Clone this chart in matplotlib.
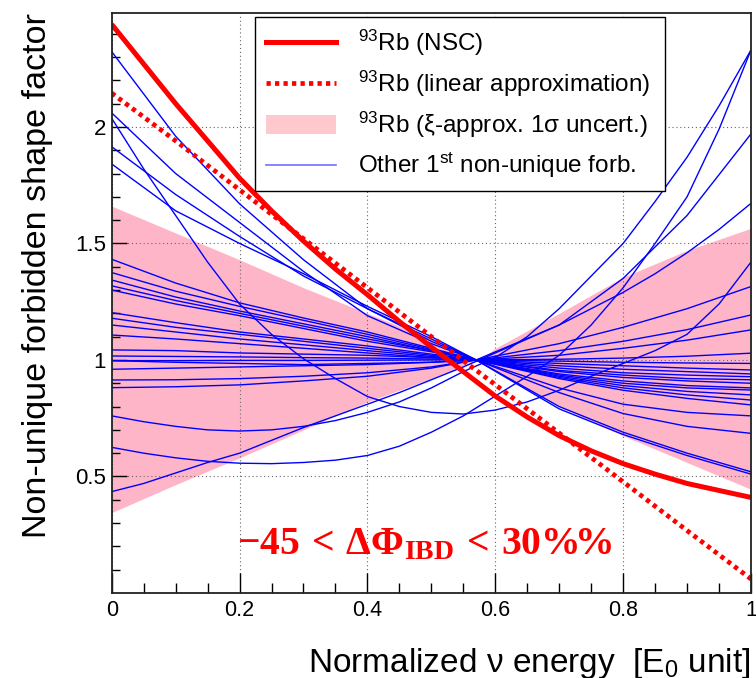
import numpy as np
import matplotlib
matplotlib.use("Agg")
import matplotlib.pyplot as plt
from matplotlib.lines import Line2D
from matplotlib.patches import Patch

plt.rcParams['font.family'] = ['Liberation Sans', 'DejaVu Sans']
plt.rcParams['mathtext.fontset'] = 'custom'
plt.rcParams['mathtext.rm'] = 'Liberation Sans'
plt.rcParams['mathtext.it'] = 'Liberation Sans:italic'
plt.rcParams['mathtext.bf'] = 'Liberation Serif:bold'

# ---------------- data ----------------
x_fine = [0.0, 0.05, 0.1, 0.15, 0.2, 0.25, 0.3, 0.35, 0.4, 0.45, 0.5,
          0.55, 0.6, 0.65, 0.7, 0.75, 0.8, 0.85, 0.9, 0.95, 1.0]
rb93_nsc = [2.44, 2.27, 2.10, 1.94, 1.78, 1.64, 1.51, 1.39, 1.28, 1.165, 1.055,
            0.95, 0.845, 0.755, 0.675, 0.61, 0.555, 0.51, 0.47, 0.44, 0.41]

x_grid = [0.0, 0.1, 0.2, 0.3, 0.4, 0.5, 0.6, 0.7, 0.8, 0.9, 1.0]
rb93_linear = [2.145, 1.94, 1.73, 1.52, 1.31, 1.10, 0.894, 0.686, 0.477, 0.268, 0.06]

x_band = [0.0, 0.1, 0.2, 0.3, 0.4, 0.5, 0.575, 0.6, 0.7, 0.8, 0.9, 1.0]
band_upper = [1.66, 1.545, 1.43, 1.31, 1.20, 1.09, 1.0, 1.05, 1.20, 1.355, 1.47, 1.565]
band_lower = [0.345, 0.465, 0.58, 0.70, 0.82, 0.92, 1.0, 0.95, 0.80, 0.675, 0.56, 0.445]

# other first non-unique forbidden transitions
x_blue = [0.0, 0.1, 0.2, 0.3, 0.4, 0.5, 0.57, 0.7, 0.8, 0.9, 1.0]
blue_d1 = [2.323, 1.96, 1.67, 1.43, 1.22, 1.08, 1.0, 0.80, 0.69, 0.60, 0.52]
blue_d2 = [2.06, 1.80, 1.59, 1.38, 1.19, 1.07, 1.0, 0.79, 0.68, 0.59, 0.51]
blue_d3 = [1.915, 1.71, 1.53, 1.36, 1.22, 1.09, 1.0, 0.86, 0.77, 0.715, 0.685]
blue_d4 = [1.841, 1.64, 1.50, 1.37, 1.23, 1.10, 1.0, 0.88, 0.81, 0.775, 0.76]
blue_g1 = [1.432, 1.33, 1.245, 1.18, 1.12, 1.05, 1.0, 0.92, 0.87, 0.835, 0.807]
blue_g2 = [1.375, 1.295, 1.23, 1.17, 1.11, 1.045, 1.0, 0.925, 0.88, 0.85, 0.828]
blue_g3 = [1.343, 1.27, 1.21, 1.155, 1.10, 1.04, 1.0, 0.93, 0.89, 0.865, 0.85]
blue_g4 = [1.318, 1.255, 1.20, 1.145, 1.09, 1.04, 1.0, 0.935, 0.90, 0.88, 0.871]
blue_g5 = [1.30, 1.24, 1.19, 1.135, 1.08, 1.035, 1.0, 0.94, 0.91, 0.89, 0.88]
blue_g6 = [1.203, 1.16, 1.12, 1.09, 1.06, 1.025, 1.0, 0.95, 0.925, 0.91, 0.90]
blue_g7 = [1.179, 1.14, 1.11, 1.08, 1.05, 1.02, 1.0, 0.955, 0.935, 0.92, 0.915]
blue_g8 = [1.15, 1.12, 1.09, 1.065, 1.04, 1.015, 1.0, 0.965, 0.945, 0.935, 0.928]
blue_g9 = [1.107, 1.09, 1.07, 1.05, 1.03, 1.01, 1.0, 0.975, 0.96, 0.95, 0.94]
blue_f1 = [1.043, 1.04, 1.03, 1.025, 1.02, 1.01, 1.0, 0.985, 0.975, 0.965, 0.957]
blue_f2 = [1.017, 1.015, 1.013, 1.01, 1.008, 1.004, 1.0, 0.995, 0.99, 0.987, 0.985]
blue_f3 = [0.997, 0.99, 0.985, 0.98, 0.985, 0.99, 1.0, 1.04, 1.08, 1.13, 1.193]
blue_r1 = [0.914, 0.915, 0.92, 0.93, 0.945, 0.97, 1.0, 1.07, 1.14, 1.22, 1.315]
blue_r2 = [0.881, 0.885, 0.893, 0.91, 0.93, 0.965, 1.0, 1.15, 1.35, 1.62, 1.97]
blue_r3 = [0.96, 0.965, 0.97, 0.975, 0.98, 0.99, 1.0, 1.02, 1.05, 1.085, 1.129]
blue_r4 = [0.997, 0.997, 0.998, 0.998, 0.999, 1.0, 1.0, 1.003, 1.008, 1.016, 1.029]

# strongly curved ones, read on the finer grid
blue_u1 = [2.037, 1.82, 1.62, 1.42, 1.24, 1.11, 1.005, 0.92, 0.843, 0.80, 0.775,
           0.768, 0.785, 0.82, 0.87, 0.93, 0.985, 1.04, 1.11, 1.24, 1.42]
blue_u2 = [0.76, 0.735, 0.715, 0.70, 0.695, 0.70, 0.715, 0.74, 0.775, 0.82, 0.88,
           0.95, 1.01, 1.10, 1.22, 1.36, 1.50, 1.68, 1.87, 2.09, 2.33]
blue_u3 = [0.625, 0.60, 0.58, 0.565, 0.557, 0.555, 0.56, 0.57, 0.59, 0.63, 0.69,
           0.76, 0.845, 0.93, 1.02, 1.15, 1.31, 1.50, 1.70, 1.99, 2.33]
blue_u4 = [0.435, 0.47, 0.515, 0.56, 0.60, 0.655, 0.71, 0.76, 0.81, 0.86, 0.915,
           0.97, 1.03, 1.09, 1.15, 1.22, 1.29, 1.37, 1.46, 1.56, 1.672]

blue_coarse = [blue_d1, blue_d2, blue_d3, blue_d4, blue_g1, blue_g2, blue_g3,
               blue_g4, blue_g5, blue_g6, blue_g7, blue_g8, blue_g9, blue_f1,
               blue_f2, blue_f3, blue_r1, blue_r2, blue_r3, blue_r4]
blue_fine = [blue_u1, blue_u2, blue_u3, blue_u4]

legend_labels = [r"$^{93}$Rb (NSC)",
                 r"$^{93}$Rb (linear approximation)",
                 r"$^{93}$Rb (ξ-approx. 1σ uncert.)",
                 r"Other 1$^{\mathrm{st}}$ non-unique forb."]

x_ticks = [0, 0.2, 0.4, 0.6, 0.8, 1.0]
x_tick_labels = ["0", "0.2", "0.4", "0.6", "0.8", "1"]
y_ticks = [0.5, 1.0, 1.5, 2.0]
y_tick_labels = ["0.5", "1", "1.5", "2"]

# ---------------- figure ----------------
W, H = 756, 678
fig = plt.figure(figsize=(W / 100, H / 100), dpi=100)
ax_left, ax_right, ax_top, ax_bottom = 111.7, 751.0, 12.7, 593.0
ax = fig.add_axes([ax_left / W, 1 - ax_bottom / H,
                   (ax_right - ax_left) / W, (ax_bottom - ax_top) / H])
ax.set_xlim(0, 1)
ax.set_ylim(0, 2.49)

band_color = '#ffb5c8'
ax.fill_between(x_band, band_lower, band_upper, color=band_color, lw=0, zorder=1)

for yc in blue_coarse:
    ax.plot(x_blue, yc, color='#0000ff', lw=1.0, zorder=3)
for yc in blue_fine:
    ax.plot(x_fine, yc, color='#0000ff', lw=1.0, zorder=3)

ax.plot(x_grid, rb93_linear, color='red', lw=3.4, linestyle=(0, (0.9, 0.9)),
        zorder=5)
ax.plot(x_fine, rb93_nsc, color='red', lw=3.6, zorder=6, solid_capstyle='butt')

# ticks & grid
ax.set_xticks(x_ticks)
ax.set_xticklabels(x_tick_labels)
ax.set_yticks(y_ticks)
ax.set_yticklabels(y_tick_labels)
ax.set_xticks(np.arange(0, 1.0001, 0.05), minor=True)
ax.set_yticks(np.arange(0.1, 2.49, 0.1), minor=True)
ax.grid(True, which='major', color='#666666', linestyle=(0, (1, 2.5)), lw=0.8,
        zorder=2)
ax.set_axisbelow(False)

ax.tick_params(axis='x', which='major', direction='in', length=14.5, width=1.0,
               labelsize=15.5, pad=5, top=False)
ax.tick_params(axis='x', which='minor', direction='in', length=7, width=1.0,
               top=False)
ax.tick_params(axis='y', which='major', direction='in', length=11, width=1.0,
               labelsize=16, pad=4, right=False)
ax.tick_params(axis='y', which='minor', direction='in', length=5.5, width=1.0,
               right=False)
for sp in ax.spines.values():
    sp.set_linewidth(1.3)
    sp.set_color('#222222')
    sp.set_zorder(10)

fig.text(38 / W, 1 - 13 / H, "Non-unique forbidden shape factor", rotation=90,
         ha='center', va='top', fontsize=24.6)
fig.text(750 / W, 1 - 672 / H, r"Normalized ν energy  [E$_{0}$ unit]",
         ha='right', va='baseline', fontsize=24)

ax.text(0.49, 0.168,
        r"$\mathbf{-45\,<\,\Delta\Phi_{IBD}\,<\,30\%\!\%}$",
        color='red', fontsize=28.5, ha='center', va='baseline', zorder=8)

handles = [Line2D([], [], color='red', lw=3.6),
           Line2D([], [], color='red', lw=3.4, linestyle=(0, (0.9, 0.9))),
           Patch(facecolor='#ffc8cc', edgecolor='none'),
           Line2D([], [], color='#7070ff', lw=1.2)]
leg = ax.legend(handles, legend_labels, loc='upper left',
                bbox_to_anchor=(0.224, 0.993, 0.642, 0), mode='expand',
                fontsize=17.5, frameon=True, fancybox=False, framealpha=1,
                edgecolor='black', handlelength=2.9, handleheight=0.8,
                labelspacing=0.45, borderpad=0.45, handletextpad=0.9,
                borderaxespad=0)
leg.get_frame().set_linewidth(1.0)
leg.set_zorder(20)

fig.savefig("out.png", dpi=100)
